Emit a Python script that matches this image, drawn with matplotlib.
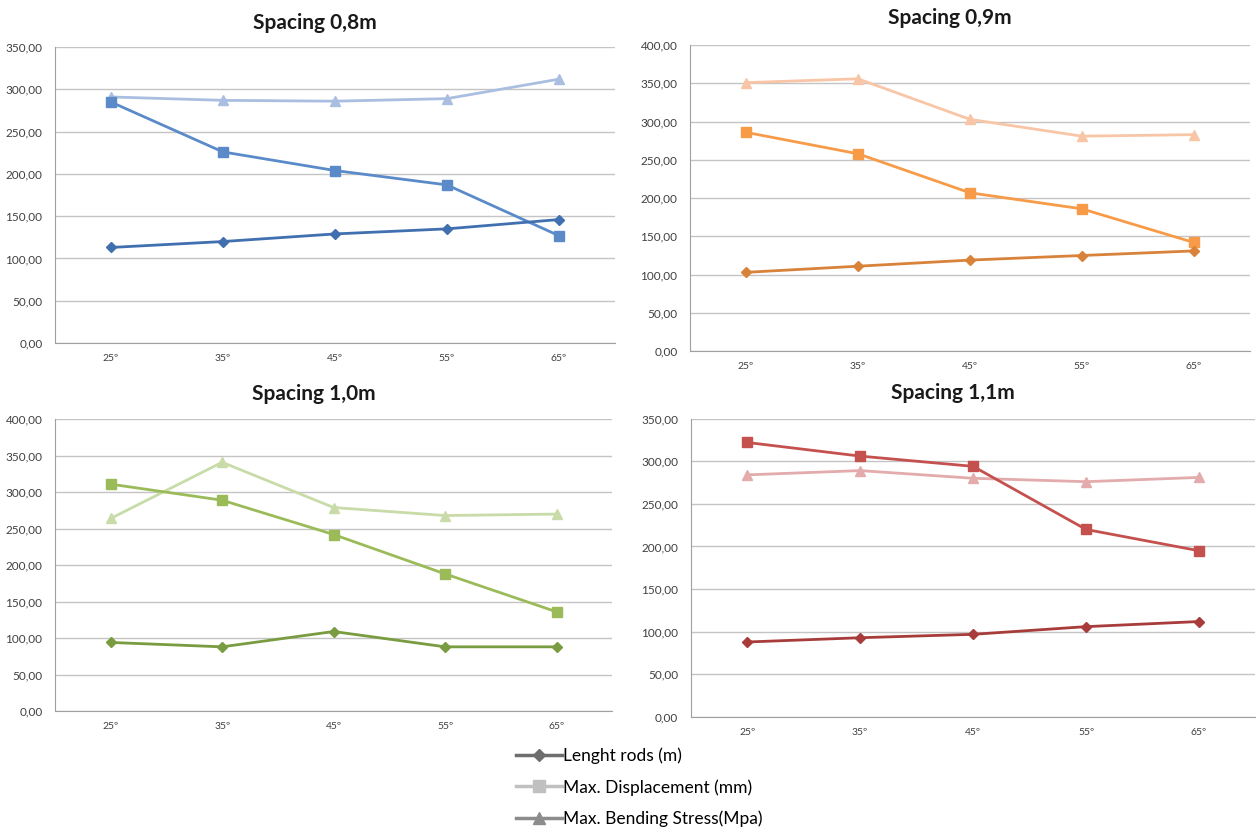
import matplotlib.pyplot as plt
from matplotlib.lines import Line2D

plt.rcParams['font.family'] = ['Lato', 'DejaVu Sans']

angles = ['25º', '35º', '45º', '55º', '65º']

# spacing 0,8m
rods_08 = [113, 120, 129, 135, 146]
disp_08 = [285, 226, 204, 187, 127]
stress_08 = [291, 287, 286, 289, 312]

# spacing 0,9m
rods_09 = [103, 111, 119, 125, 131]
disp_09 = [286, 258, 207, 186, 142]
stress_09 = [351, 356, 303, 281, 283]

# spacing 1,0m
rods_10 = [94, 88, 109, 88, 88]
disp_10 = [311, 289, 242, 188, 136]
stress_10 = [264, 341, 279, 268, 270]

# spacing 1,1m
rods_11 = [88, 93, 97, 106, 112]
disp_11 = [322, 306, 294, 220, 195]
stress_11 = [284, 289, 280, 276, 281]

panels = [
    ('Spacing 0,8m', rods_08, disp_08, stress_08, 350,
     ('#4170b0', '#5a8bc8', '#a9bee0'), [0.0437, 0.5897, 0.445, 0.354], 0.985),
    ('Spacing 0,9m', rods_09, disp_09, stress_09, 400,
     ('#d8823a', '#f79b48', '#f8c6a6'), [0.5485, 0.580, 0.445, 0.366], 0.991),
    ('Spacing 1,0m', rods_10, disp_10, stress_10, 400,
     ('#7a9c40', '#9bbb59', '#c8dba8'), [0.0437, 0.1495, 0.443, 0.349], 0.541),
    ('Spacing 1,1m', rods_11, disp_11, stress_11, 350,
     ('#a83c3a', '#c4514e', '#e3abab'), [0.549, 0.1423, 0.449, 0.357], 0.542),
]

fig = plt.figure(figsize=(12.58, 8.36), dpi=100)

for title, rods, disp, stress, ymax, cols, pos, ty in panels:
    ax = fig.add_axes(pos)
    x = range(len(angles))
    ax.plot(x, rods, color=cols[0], lw=2.0, marker='D', ms=5, zorder=4)
    ax.plot(x, disp, color=cols[1], lw=2.0, marker='s', ms=7, zorder=3)
    ax.plot(x, stress, color=cols[2], lw=2.0, marker='^', ms=7, zorder=2)

    ax.set_xlim(-0.5, len(angles) - 0.5)
    ax.set_ylim(0, ymax)
    ticks = list(range(0, ymax + 1, 50))
    ax.set_yticks(ticks)
    ax.set_yticklabels([f'{t},00' for t in ticks])
    ax.set_xticks(list(x))
    ax.set_xticklabels(angles)
    ax.tick_params(axis='both', length=0, colors='#404040')
    ax.tick_params(axis='y', pad=9, labelsize=8.5)
    ax.tick_params(axis='x', pad=8, labelsize=7.5)
    ax.yaxis.grid(True, color='#c4c4c4', lw=1.0)
    ax.set_axisbelow(True)
    for s in ['top', 'right']:
        ax.spines[s].set_visible(False)
    ax.spines['left'].set_color('#a0a0a0')
    ax.spines['bottom'].set_color('#a0a0a0')

    # titles sit a little left of the plot centre
    fig.text(pos[0] + pos[2] / 2 - 0.016, ty, title, ha='center', va='top',
             fontsize=15, fontweight='bold', color='#1a1a1a')

handles = [
    Line2D([], [], color='#6e6e6e', lw=2.5, marker='D', ms=6),
    Line2D([], [], color='#c0c0c0', lw=2.5, marker='s', ms=8),
    Line2D([], [], color='#8c8c8c', lw=2.5, marker='^', ms=8),
]
labels = ['Lenght rods (m)', 'Max. Displacement (mm)', 'Max. Bending Stress(Mpa)']
fig.legend(handles, labels, loc='upper left', bbox_to_anchor=(0.405, 0.114),
           frameon=False, fontsize=12.5, handlelength=2.6, handletextpad=0.1,
           labelspacing=0.85, borderaxespad=0)

fig.savefig('out.png', dpi=100)
